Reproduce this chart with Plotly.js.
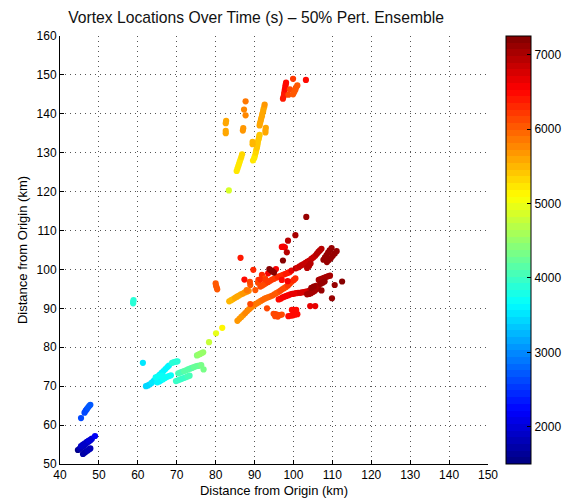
<!DOCTYPE html>
<html>
<head>
<meta charset="utf-8">
<script src="https://cdn.plot.ly/plotly-3.0.1.min.js"></script>
<style>html,body{margin:0;padding:0;background:#fff;}#chart{width:562px;height:504px;}</style>
</head>
<body>
<div id="chart"></div>
<script>
// ---- Data: x (km), y (km), time (s) ----
var blueX = [44.6,45.0,45.4,45.8,46.2,46.6,47.0,47.4,47.8, 45.4,45.9,46.4,46.9,47.4,47.9,48.2, 45.9,46.3,46.7,47.1,47.5,47.8, 49.0, 45.4, 46.3,46.6,46.9,47.2,47.5,47.8];
var blueY = [53.6,53.9,54.2,54.5,54.8,55.2,55.5,55.8,56.1, 54.6,55.0,55.3,55.7,56.0,56.3,56.5, 52.6,52.9,53.2,53.5,53.8,54.0, 57.2, 61.8, 63.2,63.7,64.1,64.5,64.9,65.2];
var blueT = [1500,1760,1780,1800,1820,1840,1860,1880,1900, 1880,1900,1920,1940,1960,1980,2000, 1720,1740,1760,1780,1800,1820, 2150, 2650, 2600,2630,2660,2690,2720,2750];

var cyanX = [58.8,58.8,58.9, 61.3, 62.1,62.6,63.1,63.6,64.1,64.6,65.1,65.6,66.1,66.6,67.1,67.6,68.0, 65.0,65.5,66.0,66.5,67.0,67.5,68.0,68.5, 64.6,65.2,65.8,66.3, 68.8,69.3,69.8,70.2, 69.8,70.3,70.8,71.3,71.8,72.3,72.8,73.3, 70.4,70.9,71.4,71.9,72.4,72.9,73.4,73.9,74.4,74.9,75.4,75.9,76.3, 76.9, 75.2,75.6,76.0,76.4,76.8, 78.3, 80.1, 81.7];
var cyanY = [91.3,91.7,92.1, 76.0, 70.0,70.2,70.5,70.9,71.4,71.9,72.4,72.9,73.4,73.9,74.4,74.9,75.3, 71.0,71.2,71.5,71.8,72.1,72.4,72.6,72.8, 72.3,72.5,72.7,72.7, 76.0,76.2,76.3,76.4, 71.3,71.5,71.7,71.9,72.1,72.3,72.5,72.7, 73.3,73.5,73.7,73.9,74.1,74.3,74.5,74.7,74.9,75.1,75.2,75.3,75.4, 74.3, 77.9,78.1,78.3,78.5,78.7, 81.3, 83.6, 85.0];
var cyanT = [3900,3900,3900, 3500, 3450,3460,3470,3480,3500,3510,3530,3550,3570,3590,3610,3630,3650, 3600,3620,3640,3660,3680,3700,3720,3740, 3700,3700,3700,3700, 3900,3900,3900,3900, 3950,3960,3970,3990,4000,4010,4030,4050, 4050,4070,4090,4110,4130,4150,4170,4190,4210,4230,4250,4270,4300, 4350, 4450,4470,4490,4510,4550, 4750, 5000, 5100];

var upperX = [83.4, 85.4,85.6,85.8,86.0,86.2,86.4,86.6,86.8, 89.6,89.9,90.1, 90.3,90.4,90.6,90.7,90.8,90.9,91.1,91.2,91.3, 89.5,89.5, 91.3,91.4,91.6,91.7,91.9,92.0,92.2,92.3,92.5,92.6, 92.8,92.8,92.9, 87.0,87.1, 82.6,82.6,82.6,82.7, 87.7,87.3,87.7, 97.3,97.5,97.6,97.7,97.8,97.9,98.0,98.1, 98.7,99.1,99.9, 99.9,100.2,100.5,100.7,101.0, 103.2];
var upperY = [120.3, 125.3,125.9,126.5,127.1,127.7,128.3,128.9,129.6, 128.0,128.6,129.2, 130.0,130.6,131.2,131.8,132.4,133.0,133.6,134.2,134.6, 132.2,132.8, 137.0,137.6,138.2,138.8,139.4,140.0,140.6,141.2,141.8,142.4, 135.2,135.8,136.4, 135.7,136.3, 135.0,135.6,137.6,138.2, 139.6,141.1,143.2, 143.9,144.5,145.1,145.7,146.3,146.9,147.5,148.0, 144.9,146.3,149.0, 145.0,145.6,146.2,146.8,147.3, 148.7];
var upperT = [4900, 5200,5210,5220,5230,5250,5260,5280,5300, 5250,5250,5250, 5350,5360,5370,5380,5390,5400,5420,5430,5450, 5500,5500, 5550,5560,5570,5580,5590,5600,5610,5620,5630,5650, 5600,5600,5600, 5650,5650, 5600,5600,5600,5600, 5800,5800,5850, 6400,6410,6420,6440,6450,6470,6480,6500, 6100,6100,6200, 6050,6050,6050,6050,6050, 6500];

var mainX = [83.5,84.0,84.5,85.0,85.5,86.0,86.5,87.0,87.5,88.0,88.5,
  80.0,80.1,80.3,80.4,
  85.6,86.1,86.6,87.1,87.6,88.1,88.6,89.1,89.6,90.1,90.6,91.1,91.6,92.1,92.6,93.1,93.6,94.1,94.6,95.1,95.6,96.1,96.6,97.1,97.6,98.1,98.6,99.1,99.6,100.1,100.5,
  91.5,92.0,92.5,93.0,93.5,94.0,94.5,95.0,95.5,96.0,96.5,97.0,97.5,98.0,98.5,99.0,
  89.7,91.9,92.7,91.0,88.9,90.2,88.0,93.2,88.9,86.4,87.4,88.8,90.9,91.5,92.8,97.0,98.5,99.5,100.6,93.5,95.5,
  93.8,94.2,94.6,95.0,
  94.9,95.3,95.7,96.1,96.5,97.0,95.3,96.0,
  99.6,100.1,100.7,98.7,99.3,99.9,100.5,101.0, 104.3,105.6,
  96.2,96.7,97.2,97.7,98.2,98.7,99.2,99.7,100.2,100.7,101.2,101.7,102.2,102.7,103.2,103.7,104.2,104.7,105.2,105.7,
  103.5,104.0,104.5,105.0,105.5,106.0,106.3,105.8,105.2,104.6,
  101.1,101.6,102.1,102.6,103.1,103.6,104.1,104.6,105.1,105.6,106.0,106.4,106.8,107.2,
  103.5,104.0,104.4,
  107.7,108.1,108.5,108.9,109.3,109.8,
  108.6,109.1,109.6,110.1,110.6,111.1,
  106.5,107.0,107.5,108.0,108.5,109.0,109.4, 107.0,107.5,108.0,
  112.5,110.6,107.2,109.9,
  103.3,100.5,98.6,97.0,97.4,97.8,98.3,97.3];
var mainY = [91.8,92.1,92.4,92.7,93.0,93.3,93.6,93.8,94.1,94.3,94.5,
  96.4,95.8,95.3,94.9,
  86.8,87.3,87.8,88.3,88.8,89.3,89.8,90.2,90.6,91.0,91.3,91.6,91.9,92.2,92.5,92.7,92.9,93.1,93.3,93.6,93.9,94.2,94.5,94.9,95.2,95.5,95.9,96.4,96.9,97.3,97.7,
  95.6,95.9,96.2,96.5,96.8,97.1,97.4,97.6,97.9,98.1,98.3,98.5,98.7,98.9,99.1,99.3,
  99.9,98.6,97.7,97.3,96.0,94.7,94.7,90.0,91.1,103.0,97.4,96.8,96.6,97.4,97.4,97.3,97.0,99.7,100.3,99.0,100.1,
  100.1,99.8,99.5,99.2,
  88.6,88.5,88.4,88.3,88.3,88.4,88.0,87.9,
  89.6,89.6,89.6,88.0,88.1,88.2,88.4,88.5, 90.6,90.6,
  92.3,92.5,92.8,93.0,93.2,93.4,93.6,93.7,93.8,93.9,94.0,94.0,94.1,94.2,94.3,94.4,94.6,94.9,95.1,95.3,
  93.6,93.7,93.9,94.2,94.5,95.0,95.5,95.8,95.6,95.3,
  100.5,100.8,101.1,101.4,101.7,102.0,102.3,102.7,103.1,103.5,104.0,104.5,104.9,105.3,
  100.4,100.9,101.5,
  102.5,103.1,103.7,104.3,104.9,105.5,
  101.9,102.4,102.9,103.5,104.1,104.7,
  97.3,97.5,97.7,97.9,98.1,98.3,98.4, 96.3,96.6,96.9,
  96.9,96.0,94.6,92.6,
  113.5,108.8,107.4,105.8,105.9,105.7,104.4,102.3];
var mainT = [5500,5520,5540,5560,5580,5600,5620,5650,5680,5710,5750,
  6000,6000,6000,6000,
  5650,5670,5690,5710,5730,5750,5770,5790,5810,5830,5850,5870,5890,5910,5930,5950,5970,5990,6010,6030,6050,6070,6090,6110,6130,6160,6190,6210,6240,6270,6300,
  6100,6120,6140,6160,6180,6200,6220,6240,6260,6280,6300,6320,6340,6360,6380,6400,
  6300,6300,6100,6200,6000,6000,5900,6100,6100,6400,6450,6150,6150,6300,6250,6500,6600,6700,6900,6600,6600,
  7200,7200,7200,7200,
  6100,6100,6100,6100,6100,6100,6100,6100,
  6500,6500,6500,6500,6500,6500,6500,6500, 6700,6700,
  6500,6520,6540,6560,6580,6600,6620,6640,6660,6680,6700,6720,6740,6760,6780,6800,6850,6900,6950,7000,
  7000,7010,7020,7030,7040,7050,7060,7070,7080,7100,
  6800,6810,6820,6830,6840,6850,6860,6870,6880,6890,6900,6920,6940,6960,
  6900,6900,6900,
  7100,7100,7100,7100,7100,7100,
  7150,7150,7150,7150,7150,7150,
  7050,7050,7050,7050,7050,7050,7050, 7100,7100,7100,
  7200,7100,7100,7150,
  7100,7000,6950,6600,6600,6600,6900,7250];

var xTickVals = [40,50,60,70,80,90,100,110,120,130,140,150];
var yTickVals = [50,60,70,80,90,100,110,120,130,140,150,160];
var cTickVals = [2000,3000,4000,5000,6000,7000];
var timeMin = 1500, timeMax = 7250;

// ---- MATLAB-style stepped jet colour scale (64 bands) ----
function jet(v){
  function c(a){ return Math.max(0, Math.min(1, a)); }
  var r = c(1.5 - Math.abs(4*v - 3)), g = c(1.5 - Math.abs(4*v - 2)), b = c(1.5 - Math.abs(4*v - 1));
  return 'rgb(' + Math.round(r*255) + ',' + Math.round(g*255) + ',' + Math.round(b*255) + ')';
}
var jetScale = [];
for (var k = 0; k < 64; k++) {
  var col = jet((k + 0.5) / 64);
  jetScale.push([k/64, col]);
  jetScale.push([(k+1)/64, col]);
}

var allX = blueX.concat(cyanX, upperX, mainX);
var allY = blueY.concat(cyanY, upperY, mainY);
var allT = blueT.concat(cyanT, upperT, mainT);

var trace = {
  type: 'scatter', mode: 'markers',
  x: allX, y: allY,
  marker: {
    size: 6.2, color: allT, colorscale: jetScale, cmin: timeMin, cmax: timeMax,
    line: {width: 0},
    showscale: true,
    colorbar: {
      x: 1.042, xanchor: 'left', xref: 'paper',
      y: 0.5, yanchor: 'middle', len: 1, lenmode: 'fraction',
      thickness: 25, thicknessmode: 'pixels',
      outlinewidth: 1, outlinecolor: '#000',
      tickvals: cTickVals, ticks: 'inside', ticklen: 4, tickcolor: '#000',
      tickfont: {family: 'Liberation Sans, Arial, sans-serif', size: 12, color: '#000'},
      xpad: 0, ypad: 0
    }
  },
  hoverinfo: 'x+y'
};

var axisFont = {family: 'Liberation Sans, Arial, sans-serif', size: 12, color: '#000'};
var layout = {
  width: 562, height: 504,
  margin: {l: 60, r: 74, t: 36, b: 40, pad: 0, autoexpand: false},
  paper_bgcolor: '#fff', plot_bgcolor: '#fff',
  showlegend: false,
  font: axisFont,
  title: {
    text: 'Vortex Locations Over Time (s) – 50% Pert. Ensemble',
    font: {family: 'Liberation Sans, Arial, sans-serif', size: 15.7, color: '#111'},
    x: 0.458, xref: 'paper', xanchor: 'center', y: 0.965, yref: 'container', yanchor: 'middle'
  },
  xaxis: {
    range: [40, 150], tickvals: xTickVals, ticks: 'inside', ticklen: 4, tickcolor: '#000',
    showline: true, linecolor: '#000', linewidth: 1, mirror: false,
    showgrid: true, gridcolor: '#555', gridwidth: 1, griddash: '1px,4px',
    zeroline: false, tickfont: axisFont,
    title: {text: 'Distance from Origin (km)', font: {family: 'Liberation Sans, Arial, sans-serif', size: 13, color: '#000'}, standoff: 4}
  },
  yaxis: {
    range: [50, 160], tickvals: yTickVals, ticks: 'inside', ticklen: 4, tickcolor: '#000',
    showline: true, linecolor: '#000', linewidth: 1, mirror: false,
    showgrid: true, gridcolor: '#555', gridwidth: 1, griddash: '1px,4px',
    zeroline: false, tickfont: axisFont,
    title: {text: 'Distance from Origin (km)', font: {family: 'Liberation Sans, Arial, sans-serif', size: 13, color: '#000'}, standoff: 6}
  }
};

Plotly.newPlot('chart', [trace], layout, {displayModeBar: false, staticPlot: true});
</script>
</body>
</html>
